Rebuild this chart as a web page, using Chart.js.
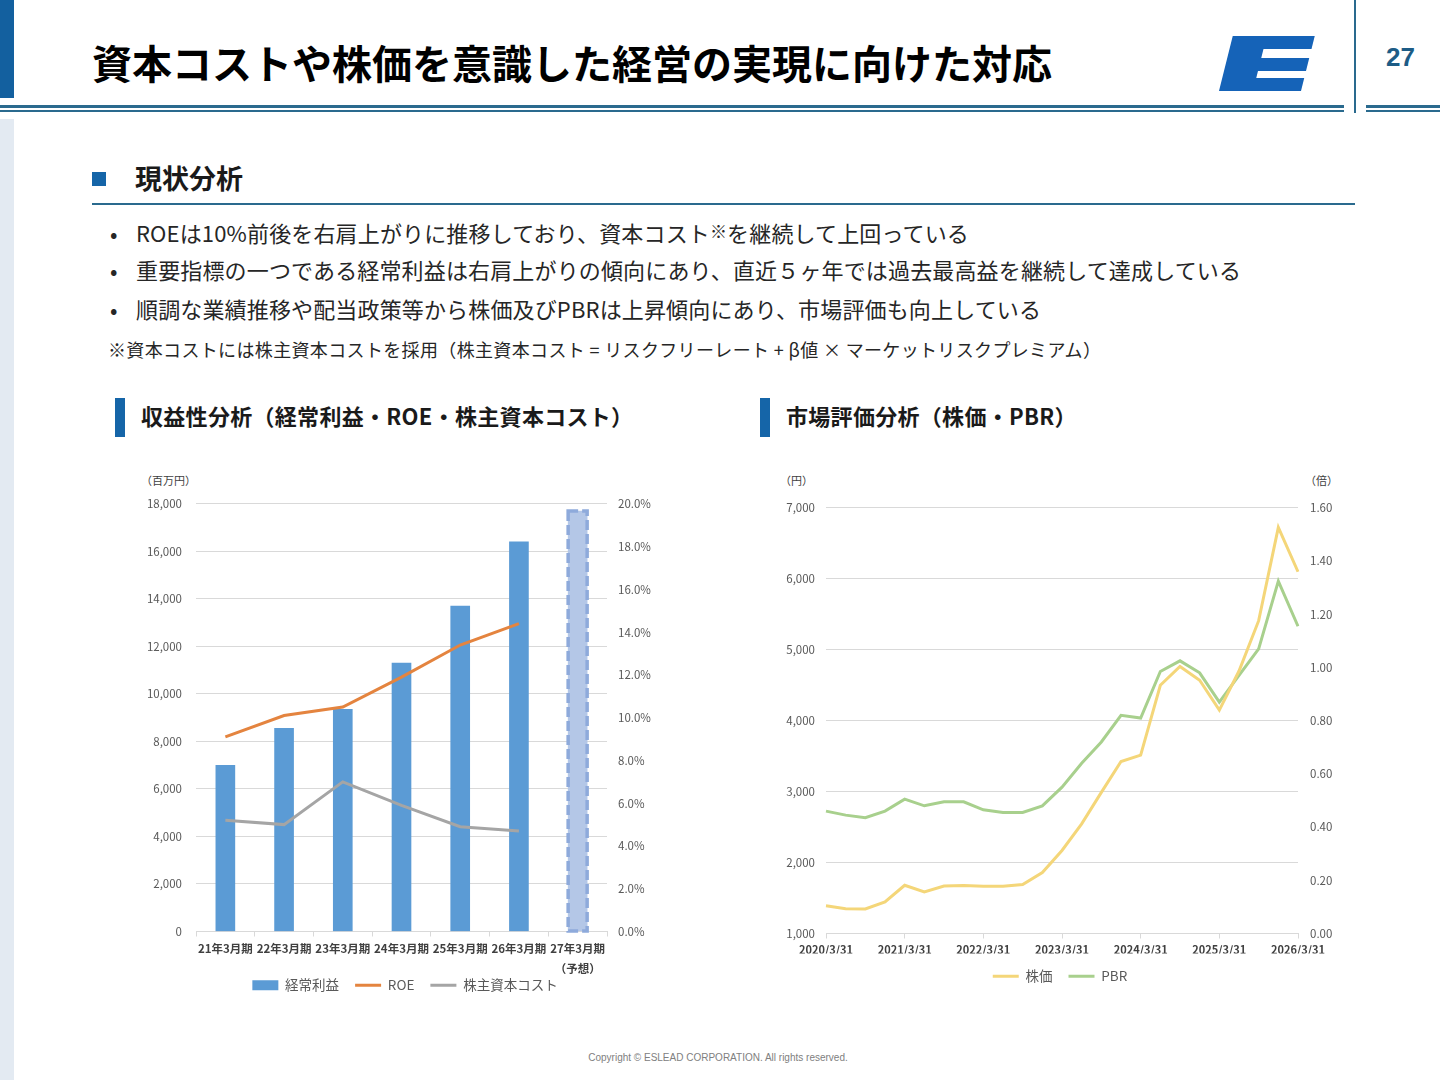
<!DOCTYPE html>
<html lang="ja">
<head>
<meta charset="utf-8">
<title>資本コストや株価を意識した経営の実現に向けた対応</title>
<script src="https://cdn.jsdelivr.net/npm/chart.js@4.4.1/dist/chart.umd.min.js"></script>
<style>
body { margin: 0; }
#slide { position: relative; width: 1440px; height: 1080px; background: #fff; overflow: hidden; font-family: "Noto Sans CJK JP", sans-serif; color: #1f1f1f; }
.abs { position: absolute; white-space: nowrap; }
.rule { position: absolute; background: #2a6a8e; }
.bullet { position: absolute; left: 110px; font-size: 22px; line-height: 30px; color: #262626; white-space: nowrap; letter-spacing: 0.15px; }
.bullet span.dot { display: inline-block; width: 26px; }
.subhead { position: absolute; font-size: 22px; font-weight: 700; line-height: 30px; color: #1a1a1a; white-space: nowrap; letter-spacing: 0.3px; }
.subbar { position: absolute; width: 10px; height: 39px; background: #1565a8; }
.unit { position: absolute; font-size: 11px; line-height: 14px; color: #404040; white-space: nowrap; }
canvas { position: absolute; }
</style>
</head>
<body>
<div id="slide">
  <!-- header -->
  <div class="abs" style="left:0;top:0;width:14px;height:98px;background:#13609f;"></div>
  <div class="abs" style="left:0;top:119px;width:14px;height:961px;background:#e3eaf2;"></div>
  <div class="abs" style="left:92px;top:38px;font-size:40px;line-height:48px;font-weight:700;color:#000;">資本コストや株価を意識した経営の実現に向けた対応</div>
  <svg class="abs" style="left:0;top:0;" width="1440" height="120">
    <path transform="translate(1241.75,0) skewX(-14.04)" fill="#1563b8"
      d="M0,36 L82,36 L82,49 L34,49 L34,58 L82,58 L82,71 L34,71 L34,78 L82,78 L82,91 L0,91 Z"/>
  </svg>
  <div class="abs" style="left:1386px;top:40px;font-size:26px;line-height:34px;font-weight:700;color:#1d5c86;font-family:'Liberation Sans',Arial,sans-serif;">27</div>
  <div class="rule" style="left:0;top:105px;width:1344px;height:3px;"></div>
  <div class="rule" style="left:0;top:110px;width:1344px;height:2px;"></div>
  <div class="rule" style="left:1366px;top:105px;width:74px;height:3px;"></div>
  <div class="rule" style="left:1366px;top:110px;width:74px;height:2px;"></div>
  <div class="rule" style="left:1354px;top:0;width:2px;height:113px;"></div>

  <!-- section -->
  <div class="abs" style="left:92px;top:172px;width:14px;height:14px;background:#1565a8;"></div>
  <div class="abs" style="left:135px;top:160px;font-size:27px;line-height:36px;font-weight:700;color:#1a1a1a;">現状分析</div>
  <div class="rule" style="left:92px;top:203px;width:1263px;height:2px;"></div>

  <div class="bullet" style="top:216px;"><span class="dot">•</span>ROEは10%前後を右肩上がりに推移しており、資本コスト<span style="font-size:17px;vertical-align:4px;">※</span>を継続して上回っている</div>
  <div class="bullet" style="top:254px;"><span class="dot">•</span>重要指標の一つである経常利益は右肩上がりの傾向にあり、直近５ヶ年では過去最高益を継続して達成している</div>
  <div class="bullet" style="top:293px;"><span class="dot">•</span>順調な業績推移や配当政策等から株価及びPBRは上昇傾向にあり、市場評価も向上している</div>
  <div class="abs" style="left:108px;top:337px;font-size:18px;line-height:24px;color:#262626;letter-spacing:0.35px;">※資本コストには株主資本コストを採用（株主資本コスト = リスクフリーレート + β値 × マーケットリスクプレミアム）</div>

  <!-- chart headings -->
  <div class="subbar" style="left:115px;top:398px;"></div>
  <div class="subhead" style="left:141px;top:400px;">収益性分析（経常利益・ROE・株主資本コスト）</div>
  <div class="subbar" style="left:760px;top:398px;"></div>
  <div class="subhead" style="left:786px;top:400px;">市場評価分析（株価・PBR）</div>

  <div class="unit" style="left:141px;top:473px;">（百万円）</div>
  <div class="unit" style="left:780px;top:473px;">（円）</div>
  <div class="unit" style="left:1305px;top:473px;">（倍）</div>

  <canvas id="profitChart" width="550" height="519" style="left:130px;top:483px;"></canvas>
  <canvas id="marketChart" width="580" height="506" style="left:770px;top:489px;"></canvas>

  <div class="abs" style="left:0;width:1436px;top:1051px;text-align:center;font-size:10px;line-height:14px;color:#808080;font-family:'Liberation Sans',Arial,sans-serif;">Copyright © ESLEAD CORPORATION. All rights reserved.</div>
</div>

<script>
// ---- profitability data ----
const fiscalYears = ['21年3月期', '22年3月期', '23年3月期', '24年3月期', '25年3月期', '26年3月期', ['27年3月期', '（予想）']];
const ordinaryProfit = [7000, 8550, 9350, 11300, 13700, 16400, 17700];
const roePct = [9.1, 10.1, 10.5, 11.9, 13.4, 14.4, null];
const equityCostPct = [5.2, 5.0, 7.0, 5.9, 4.9, 4.7, null];
const profitTicks = [0, 2000, 4000, 6000, 8000, 10000, 12000, 14000, 16000, 18000];
const pctTicks = [0, 2, 4, 6, 8, 10, 12, 14, 16, 18, 20];

// ---- market data ----
const quarterEnds = [
  '2020/3/31', '2020/6/30', '2020/9/30', '2020/12/31',
  '2021/3/31', '2021/6/30', '2021/9/30', '2021/12/31',
  '2022/3/31', '2022/6/30', '2022/9/30', '2022/12/31',
  '2023/3/31', '2023/6/30', '2023/9/30', '2023/12/31',
  '2024/3/31', '2024/6/30', '2024/9/30', '2024/12/31',
  '2025/3/31', '2025/6/30', '2025/9/30', '2025/12/31',
  '2026/3/31'
];
const sharePrice = [1390, 1350, 1345, 1445, 1680, 1585, 1670, 1675, 1665, 1665, 1690, 1860, 2170, 2545, 2990, 3425, 3515, 4500, 4765, 4570, 4150, 4700, 5410, 6725, 6100];
const pbr = [0.46, 0.445, 0.435, 0.46, 0.505, 0.48, 0.495, 0.495, 0.465, 0.455, 0.455, 0.48, 0.55, 0.64, 0.72, 0.82, 0.81, 0.985, 1.025, 0.98, 0.87, 0.97, 1.07, 1.325, 1.155];
const priceTicks = [1000, 2000, 3000, 4000, 5000, 6000, 7000];
const pbrTicks = [0, 0.2, 0.4, 0.6, 0.8, 1.0, 1.2, 1.4, 1.6];

Chart.defaults.font.family = "'Noto Sans CJK JP', sans-serif";
Chart.defaults.color = '#595959';
Chart.defaults.animation = false;

const gridColor = '#d9d9d9';
const barColor = '#5b9bd5';
const forecastIndex = ordinaryProfit.length - 1;

function legendItems(chart){
    return chart.data.datasets.map(function(ds, i){
        let isLine = ds.type === 'line' || chart.config.type === 'line';
        let color = isLine ? ds.borderColor : barColor;
        return {
            text: ds.label,
            fillStyle: color,
            strokeStyle: color,
            lineWidth: isLine ? 3 : 0,
            pointStyle: isLine ? 'line' : 'rect',
            hidden: false,
            datasetIndex: i,
            fontColor: '#595959'
        };
    });
}

function legendOptions(){
    return {
        position: 'bottom',
        labels: {
            usePointStyle: true,
            pointStyleWidth: 26,
            boxHeight: 10,
            padding: 16,
            font: { size: 13.5 },
            generateLabels: legendItems
        }
    };
}

// dashed outline for the forecast bar, drawn on the bar element itself
const forecastBorder = {
    id: 'forecastBorder',
    afterDatasetsDraw(chart){
        let bar = chart.getDatasetMeta(0).data[forecastIndex];
        if (!bar) return;
        let ctx = chart.ctx;
        ctx.save();
        ctx.setLineDash([10, 4]);
        ctx.lineWidth = 3.5;
        ctx.strokeStyle = '#8eaadb';
        ctx.strokeRect(bar.x - bar.width / 2, bar.y, bar.width, bar.base - bar.y);
        ctx.restore();
    }
};

let barColors = ordinaryProfit.map(function(v, i){ return i === forecastIndex ? '#b4c7e7' : barColor; });

new Chart(document.getElementById('profitChart'), {
    type: 'bar',
    data: {
        labels: fiscalYears,
        datasets: [
            {
                label: '経常利益',
                data: ordinaryProfit,
                backgroundColor: barColors,
                barThickness: 19,
                yAxisID: 'y',
                order: 3
            },
            {
                type: 'line',
                label: 'ROE',
                data: roePct,
                borderColor: '#e4843f',
                borderWidth: 3,
                pointRadius: 0,
                yAxisID: 'y2',
                order: 1
            },
            {
                type: 'line',
                label: '株主資本コスト',
                data: equityCostPct,
                borderColor: '#a5a5a5',
                borderWidth: 3,
                pointRadius: 0,
                yAxisID: 'y2',
                order: 2
            }
        ]
    },
    options: {
        responsive: false,
        layout: { padding: { top: 0, bottom: 0 } },
        plugins: { legend: legendOptions(), tooltip: { enabled: false } },
        scales: {
            x: {
                offset: true,
                grid: { offset: true, drawOnChartArea: false, color: gridColor, tickLength: 5 },
                border: { color: gridColor },
                ticks: { autoSkip: false, maxRotation: 0, padding: 2, font: { size: 11.5, weight: 'bold', lineHeight: 1.75 }, color: '#404040' },
                afterFit: function(s){
                    s.height = 31;
                    // let the second line "（予想）" hang below the axis box
                    s._computeLabelArea = function(){ return null; };
                }
            },
            y: {
                position: 'left',
                min: profitTicks[0],
                max: profitTicks[profitTicks.length - 1],
                afterBuildTicks: function(s){ s.ticks = profitTicks.map(function(v){ return { value: v }; }); },
                grid: { color: gridColor, drawTicks: false },
                border: { display: false },
                ticks: { padding: 14, font: { size: 11.5 }, callback: function(v){ return v.toLocaleString('en-US'); } },
                afterFit: function(s){ s.width = 66; }
            },
            y2: {
                position: 'right',
                min: pctTicks[0],
                max: pctTicks[pctTicks.length - 1],
                afterBuildTicks: function(s){ s.ticks = pctTicks.map(function(v){ return { value: v }; }); },
                grid: { display: false, drawTicks: false },
                border: { display: false },
                ticks: { padding: 11, font: { size: 11.5 }, callback: function(v){ return v.toFixed(1) + '%'; } },
                afterFit: function(s){ s.width = 73; }
            }
        }
    },
    plugins: [forecastBorder]
});

new Chart(document.getElementById('marketChart'), {
    type: 'line',
    data: {
        labels: quarterEnds,
        datasets: [
            {
                label: '株価',
                data: sharePrice,
                borderColor: '#f4d679',
                borderWidth: 3,
                pointRadius: 0,
                yAxisID: 'y'
            },
            {
                label: 'PBR',
                data: pbr,
                borderColor: '#a8d08d',
                borderWidth: 3,
                pointRadius: 0,
                yAxisID: 'y2'
            }
        ]
    },
    options: {
        responsive: false,
        layout: { padding: { top: 0, bottom: 2 } },
        plugins: { legend: legendOptions(), tooltip: { enabled: false } },
        scales: {
            x: {
                offset: false,
                grid: {
                    drawOnChartArea: false,
                    tickLength: 5,
                    color: function(c){ return c.index % 4 === 0 ? gridColor : 'rgba(0,0,0,0)'; }
                },
                border: { color: gridColor },
                ticks: {
                    autoSkip: false,
                    maxRotation: 0,
                    padding: 5,
                    font: { size: 11, weight: 'bold' },
                    color: '#404040',
                    callback: function(v, i){ return i % 4 === 0 ? quarterEnds[i] : ''; }
                },
                afterFit: function(s){ s.height = 20; }
            },
            y: {
                position: 'left',
                min: priceTicks[0],
                max: priceTicks[priceTicks.length - 1],
                afterBuildTicks: function(s){ s.ticks = priceTicks.map(function(v){ return { value: v }; }); },
                grid: { color: gridColor, drawTicks: false },
                border: { display: false },
                ticks: { padding: 11, font: { size: 11.5 }, callback: function(v){ return v.toLocaleString('en-US'); } },
                afterFit: function(s){ s.width = 56; }
            },
            y2: {
                position: 'right',
                min: pbrTicks[0],
                max: pbrTicks[pbrTicks.length - 1],
                afterBuildTicks: function(s){ s.ticks = pbrTicks.map(function(v){ return { value: v }; }); },
                grid: { display: false, drawTicks: false },
                border: { display: false },
                ticks: { padding: 12, font: { size: 11.5 }, callback: function(v){ return v.toFixed(2); } },
                afterFit: function(s){ s.width = 52; }
            }
        }
    }
});
</script>
</body>
</html>
